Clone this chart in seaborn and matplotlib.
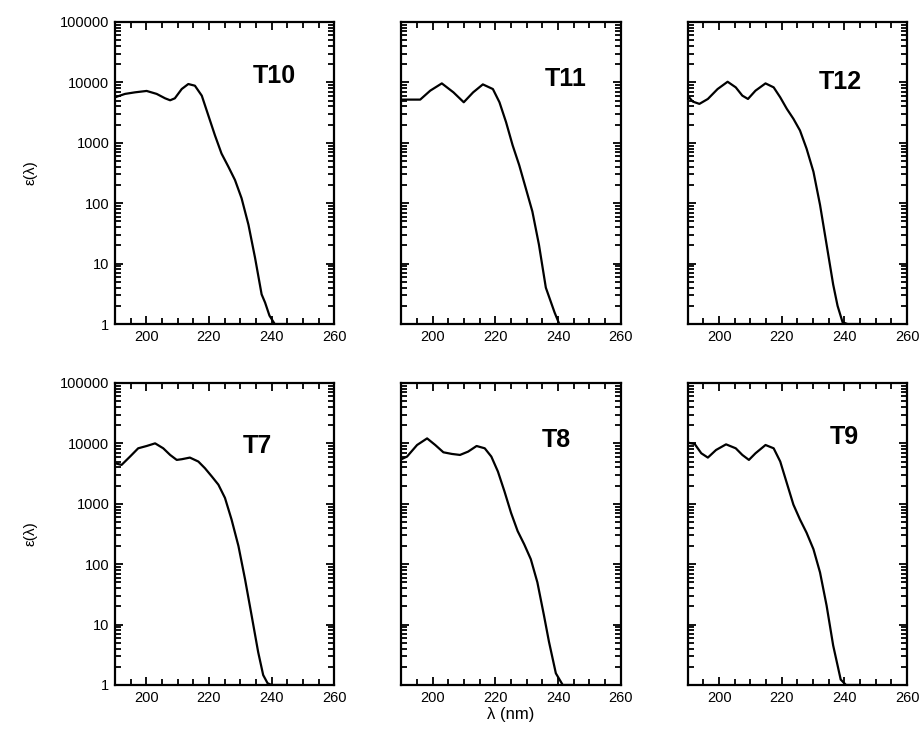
import numpy as np
import matplotlib
matplotlib.use("Agg")
import matplotlib.pyplot as plt
from matplotlib.ticker import MultipleLocator, LogLocator, FixedLocator, NullFormatter
import seaborn as sns

# spectra (wavelength in nm, epsilon)
t10_x = [190, 193.2, 196.4, 200.1, 203.3, 206, 207.6, 209.1, 211.3, 213.4, 215.5, 217.7, 219.8,
         221.9, 224, 226.2, 228.3, 230.4, 232.6, 234.7, 236.8, 237.9, 239.3, 241, 245]
t10_y = [5670, 6450, 6850, 7220, 6450, 5450, 5060, 5450, 7770, 9400, 8820, 6030, 2830,
         1330, 664, 401, 242, 121, 44, 12.5, 3.1, 2.27, 1.38, 1.0, 1.0]

t11_x = [190, 196, 199.2, 202.9, 206.6, 209.9, 212.9, 216, 219.2, 221.3, 223.4, 225.5, 227.6,
         229.7, 231.8, 233.9, 236.1, 238.9, 240.4, 245]
t11_y = [5190, 5190, 7300, 9630, 6850, 4690, 6850, 9270, 7760, 4690, 2200, 910, 427,
         177, 73, 20.6, 4.0, 1.55, 1.0, 1.0]

t12_x = [190.1, 191.6, 193.7, 196.4, 199.5, 202.7, 205.3, 207.4, 209.2, 211.6, 214.8, 217.4,
         219.5, 221.6, 223.7, 225.8, 227.9, 230.1, 232.2, 234.3, 236.4, 237.8, 239.4, 241, 245]
t12_y = [5890, 4810, 4410, 5320, 7760, 10250, 8280, 6040, 5320, 7300, 9630, 8280,
         5660, 3650, 2500, 1600, 802, 332, 94, 20.6, 4.5, 2.0, 1.07, 1.0, 1.0]

t7_x = [190, 192.1, 194.8, 197.4, 200.1, 202.8, 205.4, 207.6, 209.7, 211.3, 213.9, 216.6, 218.7,
        220.9, 223, 225.1, 227.2, 229.4, 231.5, 233.6, 235.7, 237.3, 238.7, 240, 245]
t7_y = [4690, 4400, 6040, 8280, 9040, 10000, 8280, 6430, 5320, 5460, 5810, 5000, 3880,
        2830, 2070, 1250, 549, 200, 56.6, 14.2, 3.5, 1.46, 1.07, 1.0, 1.0]

t8_x = [190, 191.8, 195, 198.2, 200.8, 203.4, 206.1, 208.7, 211.3, 214, 216.6, 218.7, 220.8,
        222.9, 225, 227.1, 229.2, 231.3, 233.4, 235.5, 237.1, 239.3, 241.5, 245]
t8_y = [5460, 6040, 9390, 12080, 9390, 7110, 6680, 6430, 7300, 9040, 8280, 6040, 3420,
        1600, 706, 353, 213, 121, 50, 14.2, 5.2, 1.56, 1.0, 1.0]

t9_x = [190.1, 192.2, 194.3, 196.4, 199, 202.2, 205.3, 207.4, 209.5, 211.6, 214.8, 217.4,
        219.5, 221.6, 223.7, 225.8, 227.9, 230.1, 232.2, 234.3, 236.4, 238.8, 240.5, 245]
t9_y = [10260, 9750, 6850, 5810, 7760, 9630, 8280, 6430, 5320, 6850, 9390, 8280,
        5000, 2200, 968, 549, 332, 177, 73, 20.6, 4.5, 1.23, 1.0, 1.0]

labels = ["T10", "T11", "T12", "T7", "T8", "T9"]
series = [(t10_x, t10_y), (t11_x, t11_y), (t12_x, t12_y),
          (t7_x, t7_y), (t8_x, t8_y), (t9_x, t9_y)]
label_pos = [(0.725, 0.82), (0.75, 0.81), (0.695, 0.80),
             (0.65, 0.79), (0.705, 0.81), (0.715, 0.82)]

sns.set_style("ticks")
plt.rcParams['font.family'] = ['Liberation Sans', 'DejaVu Sans']
for k in ['text.color', 'axes.labelcolor', 'xtick.color', 'ytick.color', 'axes.edgecolor']:
    plt.rcParams[k] = 'black'

fig, axes = plt.subplots(2, 3, figsize=(9.2, 7.33), dpi=100)
fig.subplots_adjust(left=0.125, right=0.986, top=0.970, bottom=0.0655,
                    wspace=0.306, hspace=0.195)

for i, ax in enumerate(axes.flat):
    x, y = series[i]
    sns.lineplot(x=x, y=y, ax=ax, color='black', lw=1.6,
                 estimator=None, sort=False)
    ax.set_yscale('log')
    ax.set_xlim(190, 260)
    ax.set_ylim(1, 100000)
    ax.xaxis.set_major_locator(MultipleLocator(20))
    ax.xaxis.set_minor_locator(MultipleLocator(5))
    ax.yaxis.set_major_locator(FixedLocator([1, 10, 100, 1000, 10000, 100000]))
    ax.yaxis.set_minor_locator(LogLocator(base=10, subs=np.arange(2, 10), numticks=20))
    ax.yaxis.set_minor_formatter(NullFormatter())
    ax.tick_params(which='both', direction='in', top=True, right=True,
                   width=1.3, labelsize=10.5, pad=4)
    ax.tick_params(which='major', length=6)
    ax.tick_params(which='minor', length=4)
    for sp in ax.spines.values():
        sp.set_linewidth(1.6)
        sp.set_visible(True)
    if i % 3 == 0:
        ax.set_yticklabels(['1', '10', '100', '1000', '10000', '100000'])
        ax.set_ylabel('ε(λ)', fontsize=11, labelpad=16)
    else:
        ax.set_yticklabels([])
        ax.set_ylabel('')
    ax.set_xlabel('')
    ax.text(label_pos[i][0], label_pos[i][1], labels[i], transform=ax.transAxes,
            fontsize=18, fontweight='bold', ha='center', va='center')

axes[1, 1].set_xlabel('λ (nm)', fontsize=12, labelpad=2)

fig.savefig("out.png", dpi=100)
